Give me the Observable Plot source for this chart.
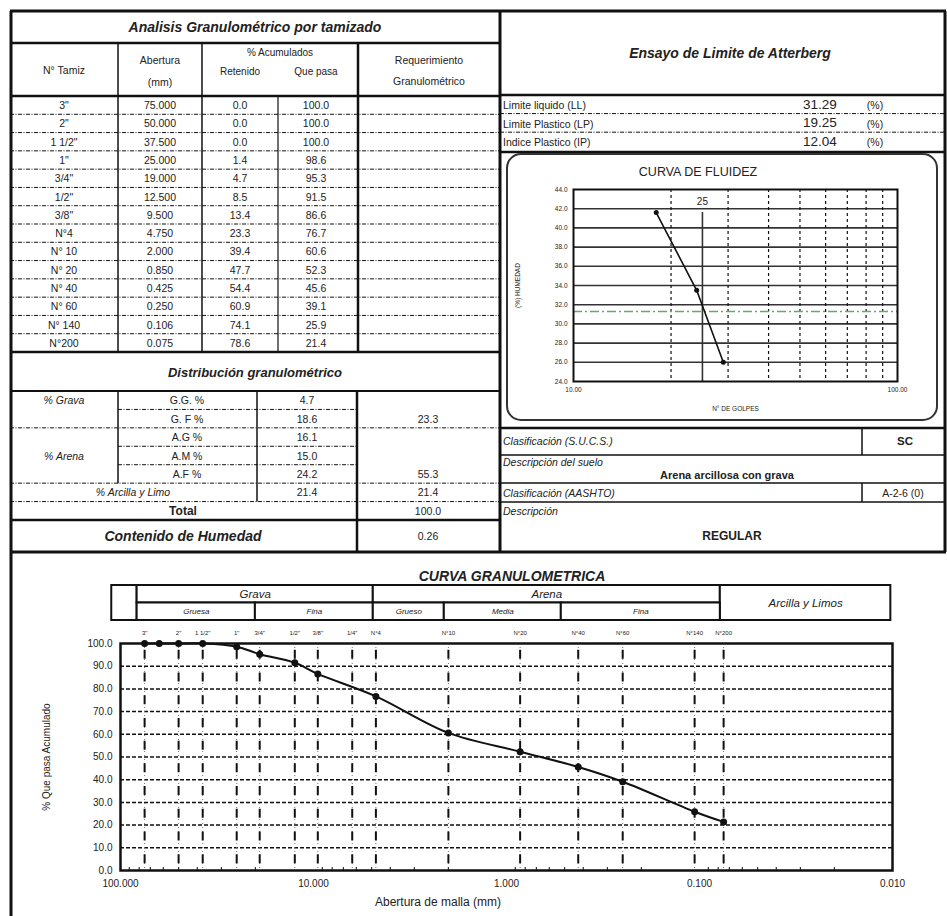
<!DOCTYPE html>
<html>
<head>
<meta charset="utf-8">
<script src="https://cdn.jsdelivr.net/npm/d3@7"></script>
<script src="https://cdn.jsdelivr.net/npm/@observablehq/plot@0.6"></script>
<style>
  html, body { margin: 0; padding: 0; background: #fff; }
  #page { position: relative; width: 947px; height: 916px; overflow: hidden; background: #fff;
          font-family: "Liberation Sans", Arial, sans-serif; color: #222; }
  #page > * { position: absolute; }
</style>
</head>
<body>
<div id="page"></div>
<script>
// ---------------- DATA ----------------
const sieveNames = ['3"', '2"', '1 1/2"', '1"', '3/4"', '1/2"', '3/8"', 'N°4', 'N° 10', 'N° 20', 'N° 40', 'N° 60', 'N° 140', 'N°200'];
const openingsMm = [75, 50, 37.5, 25, 19, 12.5, 9.5, 4.75, 2.0, 0.85, 0.425, 0.25, 0.106, 0.075];
const retainedPct = [0.0, 0.0, 0.0, 1.4, 4.7, 8.5, 13.4, 23.3, 39.4, 47.7, 54.4, 60.9, 74.1, 78.6];
const passingPct = [100.0, 100.0, 100.0, 98.6, 95.3, 91.5, 86.6, 76.7, 60.6, 52.3, 45.6, 39.1, 25.9, 21.4];

const fractionLabels = ["G.G. %", "G. F %", "A.G %", "A.M %", "A.F %"];
const fractionValues = [4.7, 18.6, 16.1, 15.0, 24.2];
const finesValue = 21.4;
const gravelTotal = 23.3;
const sandTotal = 55.3;
const grandTotal = 100.0;
const moistureContent = 0.26;

const atterbergLabels = ["Limite liquido (LL)", "Limite Plastico (LP)", "Indice Plastico (IP)"];
const atterbergValues = [31.29, 19.25, 12.04];
const liquidLimit = 31.29;

const blows = [18, 24, 29];
const blowMoisture = [41.6, 33.5, 26.0];
const blowsRef = 25;

const sucs = "SC";
const soilDescription = "Arena arcillosa con grava";
const aashto = "A-2-6 (0)";
const rating = "REGULAR";

const curveOpenings = [75, 63, 50, 37.5, 25, 19, 12.5, 9.5, 4.75, 2.0, 0.85, 0.425, 0.25, 0.106, 0.075];
const curvePassing = [100, 100, 100, 100, 98.6, 95.3, 91.5, 86.6, 76.7, 60.6, 52.3, 45.6, 39.1, 25.9, 21.4];
const chartSieveLabels = ['3"', '2"', '1 1/2"', '1"', '3/4"', '1/2"', '3/8"', '1/4"', 'N°4', 'N°10', 'N°20', 'N°40', 'N°60', 'N°140', 'N°200'];
const chartSieveMm = [75, 50, 37.5, 25, 19, 12.5, 9.5, 6.3, 4.75, 2.0, 0.85, 0.425, 0.25, 0.106, 0.075];
const xTickValues = [100, 10, 1, 0.1, 0.01];
const yTickValues = [0, 10, 20, 30, 40, 50, 60, 70, 80, 90, 100];

// header band of the granulometric chart (boundaries in mm, rows 0..2)
const headerLabels = ["", "Grava", "Arena", "Arcilla y Limos", "Gruesa", "Fina", "Grueso", "Media", "Fina"];
const headerFrom =   [111, 82, 4.9, 0.078, 82, 20, 4.9, 2.1, 0.52];
const headerTo =     [82, 4.9, 0.078, 0.0102, 20, 4.9, 2.1, 0.52, 0.078];
const headerRowLo =  [0, 1, 1, 0, 0, 0, 0, 0, 0];
const headerRowHi =  [2, 2, 2, 2, 1, 1, 1, 1, 1];

// ---------------- TABLES (static report layout) ----------------
const FONT = '"Liberation Sans", Arial, sans-serif';
const page = d3.select("#page");
const svg = page.append("svg").attr("width", 947).attr("height", 916).style("left", "0px").style("top", "0px");
const DASHDOT = "4,1.5,1,1.5";
function ln(x1, y1, x2, y2, w = 1, dash = null) {
  const l = svg.append("line").attr("x1", x1).attr("y1", y1).attr("x2", x2).attr("y2", y2)
    .attr("stroke", "#111").attr("stroke-width", w);
  if (dash) l.attr("stroke-dasharray", dash);
}
function tx(x, y, s, o = {}) {
  svg.append("text").attr("x", x).attr("y", y).text(s)
    .attr("font-family", FONT).attr("font-size", o.size || 11)
    .attr("text-anchor", o.anchor || "middle").attr("dominant-baseline", "central")
    .attr("font-weight", o.bold ? "bold" : null).attr("font-style", o.italic ? "italic" : null)
    .attr("fill", o.fill || "#222");
}

// outer frame
ln(10, 11, 946, 11, 3);
ln(11, 11, 11, 916, 3);
ln(945, 11, 945, 552, 3);
ln(10, 552, 946, 552, 3);
ln(500, 11, 500, 552, 3);

// left: sieve table
tx(255, 27, "Analisis Granulométrico por tamizado", {size: 14, bold: true, italic: true});
ln(10, 43, 500, 43, 2.5);
ln(10, 96, 500, 96, 2.5);
ln(118, 43, 118, 352, 1.5);
ln(202, 43, 202, 352, 1.5);
ln(278, 96, 278, 352, 1.2);
ln(358, 43, 358, 352, 2.5);
tx(64, 70, "N° Tamiz", {size: 10.5});
tx(160, 60, "Abertura", {size: 10.5});
tx(160, 82, "(mm)", {size: 10.5});
tx(280, 52, "% Acumulados", {size: 10});
tx(240, 71, "Retenido", {size: 10});
tx(316, 71, "Que pasa", {size: 10});
tx(429, 60, "Requerimiento", {size: 10.5});
tx(429, 81, "Granulométrico", {size: 10.5});
const rowH = (352 - 96) / sieveNames.length;
sieveNames.forEach((name, i) => {
  const cy = 96 + rowH * (i + 0.5);
  tx(64, cy, name, {size: 10.5});
  tx(160, cy, openingsMm[i].toFixed(3), {size: 10.5});
  tx(240, cy, retainedPct[i].toFixed(1), {size: 10.5});
  tx(316, cy, passingPct[i].toFixed(1), {size: 10.5});
  if (i > 0) ln(10, 96 + rowH * i, 500, 96 + rowH * i, 1, DASHDOT);
});
ln(10, 352, 500, 352, 2.5);

// left: distribution table
tx(255, 372, "Distribución granulométrico", {size: 13, bold: true, italic: true});
ln(10, 391, 500, 391, 2);
const dRow = (520 - 391) / 7;
const dy = i => 391 + dRow * (i + 0.5);
ln(118, 391, 118, 391 + dRow * 5, 1.5);
ln(257, 391, 257, 391 + dRow * 6, 1.5);
ln(357, 391, 357, 552, 2.5);
fractionLabels.forEach((lab, i) => {
  tx(187, dy(i), lab, {size: 10.5});
  tx(307, dy(i), fractionValues[i].toFixed(1), {size: 10.5});
});
[1, 3, 4].forEach(i => ln(118, 391 + dRow * i, 357, 391 + dRow * i, 1, DASHDOT));
[2, 5, 6].forEach(i => ln(10, 391 + dRow * i, 500, 391 + dRow * i, 1, DASHDOT));
tx(64, dy(0), "% Grava", {size: 10.5, italic: true});
tx(64, dy(3), "% Arena", {size: 10.5, italic: true});
tx(133, dy(5), "% Arcilla  y Limo", {size: 10.5, italic: true});
tx(307, dy(5), finesValue.toFixed(1), {size: 10.5});
tx(183, dy(6), "Total", {size: 12, bold: true});
tx(428, dy(1), gravelTotal.toFixed(1), {size: 10.5});
tx(428, dy(4), sandTotal.toFixed(1), {size: 10.5});
tx(428, dy(5), finesValue.toFixed(1), {size: 10.5});
tx(428, dy(6), grandTotal.toFixed(1), {size: 10.5});
ln(10, 520, 500, 520, 2.5);
tx(183, 536, "Contenido de Humedad", {size: 14, bold: true, italic: true});
tx(428, 536, moistureContent.toFixed(2), {size: 10.5});

// right: Atterberg
tx(730, 53, "Ensayo de Limite de Atterberg", {size: 14, bold: true, italic: true});
ln(500, 95, 946, 95, 2.5);
atterbergLabels.forEach((lab, i) => {
  const cy = 105 + 18.6 * i;
  tx(503, cy, lab, {size: 10.5, anchor: "start"});
  tx(820, cy - 1, atterbergValues[i].toFixed(2), {size: 13.5});
  tx(875, cy, "(%)", {size: 10.5});
  if (i > 0) ln(500, 95 + 18.6 * i, 945, 95 + 18.6 * i, 1, DASHDOT);
});
ln(500, 152, 946, 152, 2.5);
svg.append("rect").attr("x", 507).attr("y", 154).attr("width", 430).attr("height", 266).attr("rx", 14)
  .attr("fill", "none").attr("stroke", "#333").attr("stroke-width", 2);
tx(698, 172, "CURVA DE FLUIDEZ", {size: 12.5});

ln(500, 428, 946, 428, 2.5);
tx(503, 441, "Clasificación (S.U.C.S.)", {size: 10.5, anchor: "start", italic: true});
ln(862, 428, 862, 455, 1.5);
tx(905, 441, sucs, {size: 11.5, bold: true});
ln(500, 455, 946, 455, 1.5);
tx(503, 462, "Descripción del suelo", {size: 10.5, anchor: "start", italic: true});
tx(727, 475, soilDescription, {size: 11, bold: true});
ln(500, 483, 946, 483, 1.5);
tx(503, 493, "Clasificación (AASHTO)", {size: 10.5, anchor: "start", italic: true});
ln(862, 483, 862, 502, 1.5);
tx(903, 493, aashto, {size: 10.5});
ln(500, 502, 946, 502, 1.5);
tx(503, 511, "Descripción", {size: 10.5, anchor: "start", italic: true});
tx(732, 536, rating, {size: 12, bold: true});

// bottom titles
tx(512, 576, "CURVA GRANULOMETRICA", {size: 14, bold: true, italic: true});
tx(438, 902, "Abertura de malla (mm)", {size: 12});

// ---------------- PLOTS ----------------
const baseStyle = {background: "transparent", fontFamily: FONT, color: "#222", overflow: "visible"};

// Curva de fluidez
const fluid = blows.map((b, i) => ({blows: b, w: blowMoisture[i]}));
const fluidPlot = Plot.plot({
  width: 430, height: 266,
  marginLeft: 66, marginTop: 35, marginRight: 40, marginBottom: 39,
  style: {...baseStyle, fontSize: "6.5px"},
  x: {type: "log", domain: [10, 100], ticks: [10, 100], tickFormat: d => d.toFixed(2), tickSize: 0, tickPadding: 6,
      label: "N° DE GOLPES", labelAnchor: "center", labelOffset: 29, labelArrow: "none"},
  y: {domain: [24, 44], ticks: d3.range(24, 44.1, 2), tickFormat: d => d.toFixed(1), tickSize: 0, tickPadding: 6,
      label: "(%) HUMEDAD", labelAnchor: "center", labelOffset: 58, labelArrow: "none"},
  marks: [
    Plot.ruleY(d3.range(26, 43, 2), {stroke: "#333", strokeWidth: 1.6}),
    Plot.ruleX([20, 30, 40, 50, 60, 70, 80, 90], {stroke: "#111", strokeWidth: 1.2, strokeDasharray: "3,3"}),
    Plot.ruleX([blowsRef], {y1: 24, y2: d3.max(blowMoisture), stroke: "#333", strokeWidth: 1.6}),
    Plot.text([blowsRef], {x: d => d, y: d3.max(blowMoisture), dy: -11, text: d => String(d), fontSize: 10}),
    Plot.ruleY([liquidLimit], {stroke: "#6aa86a", strokeWidth: 1.3, strokeDasharray: "9,3,2,3"}),
    Plot.line(fluid, {x: "blows", y: "w", stroke: "#111", strokeWidth: 1.6}),
    Plot.dot(fluid, {x: "blows", y: "w", fill: "#111", r: 2.5}),
    Plot.frame({stroke: "#111", strokeWidth: 2})
  ]
});
fluidPlot.style.left = "507px"; fluidPlot.style.top = "154px";
page.node().appendChild(fluidPlot);

// Header band for the granulometric chart
const header = headerLabels.map((label, i) => ({label, x1: headerFrom[i], x2: headerTo[i], y1: headerRowLo[i], y2: headerRowHi[i]}));
const headerPlot = Plot.plot({
  width: 947, height: 37, marginLeft: 120, marginRight: 55, marginTop: 1, marginBottom: 1,
  style: {...baseStyle, fontSize: "11px"},
  x: {type: "log", domain: [100, 0.01], axis: null},
  y: {domain: [0, 2], axis: null},
  marks: [
    Plot.rect(header, {x1: "x1", x2: "x2", y1: "y1", y2: "y2", fill: "white", stroke: "#111", strokeWidth: 2}),
    Plot.text(header.filter(d => d.y1 === 1 || d.y2 - d.y1 === 2), {
      x: d => Math.sqrt(d.x1 * d.x2), y: d => (d.y1 + d.y2) / 2, text: "label", fontSize: 11.5, fontStyle: "italic"}),
    Plot.text(header.filter(d => d.y2 === 1), {
      x: d => Math.sqrt(d.x1 * d.x2), y: d => (d.y1 + d.y2) / 2, text: "label", fontSize: 8, fontStyle: "italic"})
  ]
});
headerPlot.style.left = "0px"; headerPlot.style.top = "584px";
page.node().appendChild(headerPlot);

// Curva granulométrica
const curve = curveOpenings.map((x, i) => ({x, y: curvePassing[i]}));
const sieves = chartSieveMm.map((mm, i) => ({mm, label: chartSieveLabels[i]}));
const minorTicks = [];
[0.01, 0.1, 1, 10].forEach(dec => { for (let k = 2; k <= 9; k++) minorTicks.push(+(dec * k).toPrecision(3)); });
const granPlot = Plot.plot({
  width: 947, height: 296, marginLeft: 120, marginRight: 55, marginTop: 23, marginBottom: 46,
  style: {...baseStyle, fontSize: "10px"},
  x: {type: "log", domain: [100, 0.01], ticks: xTickValues, tickFormat: d => d.toFixed(3), tickSize: 0, tickPadding: 9, label: null},
  y: {domain: [0, 100], ticks: yTickValues, tickFormat: d => d.toFixed(1), tickSize: 0, tickPadding: 8,
      label: "% Que pasa Acumulado", labelAnchor: "center", labelOffset: 78, labelArrow: "none"},
  marks: [
    Plot.ruleY(yTickValues.filter(v => v > 0 && v < 100), {stroke: "#111", strokeWidth: 1.5, strokeDasharray: "4,2"}),
    Plot.ruleX(sieves, {x: "mm", stroke: "#777", strokeWidth: 1, strokeDasharray: "1,3"}),
    Plot.ruleX(sieves, {x: "mm", stroke: "#111", strokeWidth: 2, strokeDasharray: "9,13.7", strokeDashoffset: 15.85}),
    Plot.text(sieves, {x: "mm", text: "label", frameAnchor: "top", dy: -13, fontSize: 6}),
    Plot.ruleX(minorTicks, {x: d => d, y1: 0, y2: 1.3, stroke: "#333", strokeWidth: 1.2}),
    Plot.line(curve, {x: "x", y: "y", curve: "catmull-rom", stroke: "#111", strokeWidth: 2}),
    Plot.dot(curve, {x: "x", y: "y", fill: "#111", r: 3.5}),
    Plot.frame({stroke: "#111", strokeWidth: 2.5})
  ]
});
granPlot.style.left = "0px"; granPlot.style.top = "620px";
page.node().appendChild(granPlot);
</script>
</body>
</html>
